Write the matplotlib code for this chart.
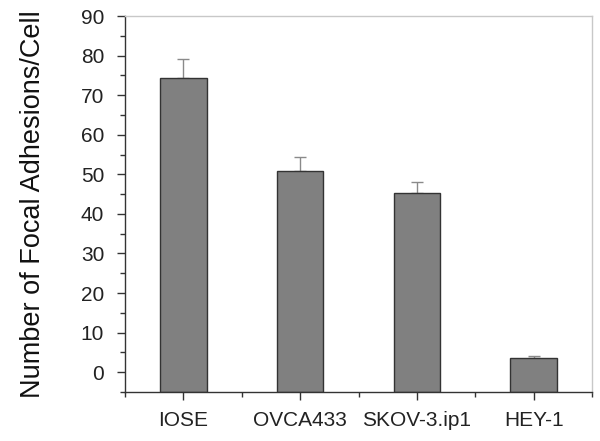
import matplotlib
matplotlib.use("Agg")
import matplotlib.pyplot as plt
from matplotlib.ticker import FixedLocator

categories = ["IOSE", "OVCA433", "SKOV-3.ip1", "HEY-1"]
values = [74.3, 50.9, 45.3, 3.5]
errors = [4.8, 3.5, 2.7, 0.5]
yticks = [0, 10, 20, 30, 40, 50, 60, 70, 80, 90]
baseline = -5

plt.rcParams['font.family'] = ['Liberation Sans', 'DejaVu Sans']

fig = plt.figure(figsize=(6, 4.41), dpi=100)
ax = fig.add_axes([125/600, 49/441, 467/600, 376/441])

x = list(range(len(categories)))
heights = [v - baseline for v in values]
ax.bar(x, heights, bottom=baseline, width=0.4, color="#808080", edgecolor="#333333",
       linewidth=1.0, zorder=2)
ax.errorbar(x, values, yerr=[[0]*len(errors), errors], fmt="none", ecolor="#8a8a8a",
            elinewidth=1.0, capsize=4, capthick=1.0, zorder=1)

ax.set_xlim(-0.5, 3.5)
ax.set_ylim(baseline, 90)
ax.set_yticks(yticks)
ax.yaxis.set_minor_locator(FixedLocator([-5, 5, 15, 25, 35, 45, 55, 65, 75, 85]))
ax.set_xticks(x)
ax.set_xticklabels(categories)
ax.xaxis.set_minor_locator(FixedLocator([-0.5, 0.5, 1.5, 2.5, 3.5]))

ax.tick_params(axis="both", which="major", direction="out", length=6, width=1, color="#333333",
               labelsize=15, labelcolor="#222222")
ax.tick_params(axis="y", which="major", pad=9)
ax.tick_params(axis="x", which="major", pad=8)
ax.tick_params(axis="both", which="minor", direction="out", length=3.5, width=1, color="#333333")

for s in ["left", "bottom"]:
    ax.spines[s].set_color("#333333")
    ax.spines[s].set_linewidth(1.0)
for s in ["top", "right"]:
    ax.spines[s].set_color("#c8c8c8")
    ax.spines[s].set_linewidth(1.0)

ax.set_ylabel("Number of Focal Adhesions/Cell", fontsize=19.5, color="#111111", labelpad=25)

fig.savefig("out.png", dpi=100)
